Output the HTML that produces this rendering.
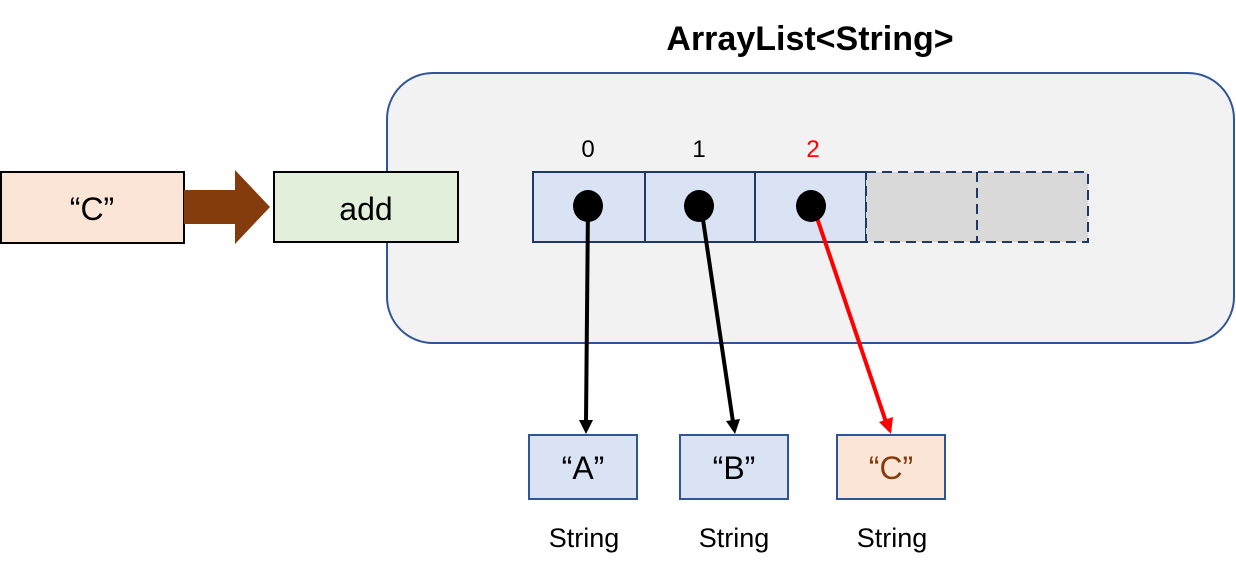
<!DOCTYPE html>
<html><head><style>body{margin:0;background:#fff}</style></head><body>
<svg width="1236" height="571" xmlns="http://www.w3.org/2000/svg" style="display:block;font-family:'Liberation Sans',sans-serif">
<text x="810" y="50" text-anchor="middle" font-size="34" font-weight="bold">ArrayList&lt;String&gt;</text>
<rect x="387" y="73" width="847" height="270" rx="46" fill="#f2f2f2" stroke="#2f5597" stroke-width="2"/>
<rect x="1" y="172" width="183" height="71" fill="#fbe5d6" stroke="#000" stroke-width="2"/>
<text x="92" y="220" text-anchor="middle" font-size="32">“C”</text>
<polygon points="184,190 235,190 235,170 270,207 235,244 235,224 184,224" fill="#843c0c"/>
<rect x="274" y="172" width="184" height="70" fill="#e2efda" stroke="#000" stroke-width="2"/>
<text x="366" y="220" text-anchor="middle" font-size="32">add</text>
<text x="588" y="157" text-anchor="middle" font-size="24">0</text>
<text x="699" y="157" text-anchor="middle" font-size="24">1</text>
<text x="813" y="157" text-anchor="middle" font-size="24" fill="#ff0000">2</text>
<g stroke="#1f3864" stroke-width="2">
<rect x="533" y="172" width="333" height="70" fill="#dae3f3"/>
<line x1="645" y1="172" x2="645" y2="242"/><line x1="755" y1="172" x2="755" y2="242"/>
<rect x="866" y="172" width="222" height="70" fill="#d9d9d9" stroke-dasharray="10,6"/>
<line x1="977" y1="172" x2="977" y2="242" stroke-dasharray="10,6"/>
</g>
<g stroke-width="4">
<line x1="588" y1="206" x2="586" y2="422" stroke="#000"/>
<line x1="701" y1="206" x2="733" y2="422" stroke="#000"/>
<line x1="813" y1="206" x2="886" y2="422" stroke="#ff0000"/>
</g>
<polygon points="579,420 593,420 586,434" fill="#000"/>
<polygon points="726,421 740,419 735,434" fill="#000"/>
<polygon points="879,422 893,417 891,434" fill="#ff0000"/>
<ellipse cx="588" cy="206" rx="15" ry="16"/>
<ellipse cx="699" cy="206" rx="15" ry="16"/>
<ellipse cx="811" cy="206" rx="15" ry="16"/>
<rect x="529" y="435" width="108" height="64" fill="#dae3f3" stroke="#2f5597" stroke-width="2"/>
<rect x="680" y="435" width="108" height="64" fill="#dae3f3" stroke="#2f5597" stroke-width="2"/>
<rect x="837" y="435" width="108" height="64" fill="#fbe5d6" stroke="#2f5597" stroke-width="2"/>
<text x="583" y="479" text-anchor="middle" font-size="32">“A”</text>
<text x="734" y="479" text-anchor="middle" font-size="32">“B”</text>
<text x="891" y="479" text-anchor="middle" font-size="32" fill="#843c0c">“C”</text>
<text x="584" y="547" text-anchor="middle" font-size="27">String</text>
<text x="734" y="547" text-anchor="middle" font-size="27">String</text>
<text x="892" y="547" text-anchor="middle" font-size="27">String</text>
</svg>
</body></html>
